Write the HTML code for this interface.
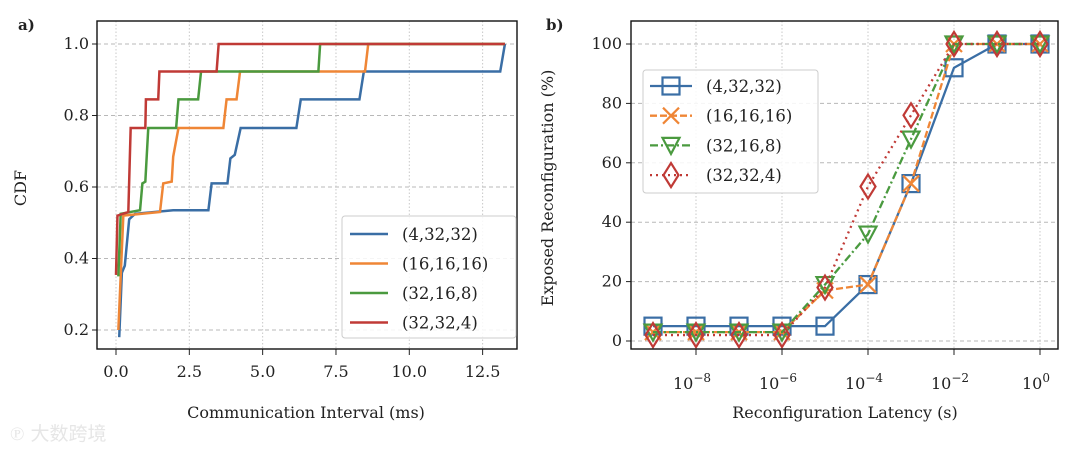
<!DOCTYPE html>
<html><head><meta charset="utf-8"><style>
body{margin:0;background:#fff;}
svg text{font-family:"DejaVu Serif","Liberation Serif",serif;fill:#222;}
</style></head><body>
<svg width="1080" height="448" viewBox="0 0 1080 448" xmlns="http://www.w3.org/2000/svg">
<text x="18" y="30" font-size="15" font-weight="bold">a)</text>
<text x="546" y="30" font-size="15" font-weight="bold">b)</text>
<g id="left"></g>
<g id="right"></g>
<text x="10" y="440" font-size="19" style="fill:#e6e6e6" font-family="Noto Sans CJK SC, sans-serif">℗ 大数跨境</text>
</svg>
<script>
const NS="http://www.w3.org/2000/svg";
const cdfNames=["(4,32,32)","(16,16,16)","(32,16,8)","(32,32,4)"];
const cdfColors=["#3a6ea5","#ef8636","#4a9a3f","#c03a36"];
const cdfX0=[0.11,0.2,0.3,0.45,0.65,1.95,3.15,3.26,3.8,3.9,4.05,4.25,6.15,6.3,8.3,8.45,13.1,13.26];
const cdfY0=[0.18,0.36,0.38,0.51,0.525,0.535,0.535,0.61,0.61,0.68,0.69,0.765,0.765,0.845,0.845,0.923,0.923,1.0];
const cdfX1=[0.08,0.25,1.5,1.61,1.9,1.95,2.13,3.66,3.77,4.11,4.23,8.49,8.6,13.26];
const cdfY1=[0.2,0.52,0.53,0.61,0.615,0.685,0.765,0.765,0.845,0.845,0.923,0.923,1.0,1.0];
const cdfX2=[0.08,0.16,0.82,0.9,1.0,1.1,2.05,2.13,2.8,2.9,6.9,6.96,13.26];
const cdfY2=[0.35,0.525,0.535,0.61,0.615,0.765,0.765,0.845,0.845,0.923,0.923,1.0,1.0];
const cdfX3=[0.0,0.05,0.42,0.5,1.0,1.02,1.44,1.48,3.43,3.5,13.26];
const cdfY3=[0.354,0.52,0.53,0.765,0.765,0.845,0.845,0.923,0.923,1.0,1.0];
const cdfXTicks=[0,2.5,5,7.5,10,12.5];
const cdfXTickLabels=["0.0","2.5","5.0","7.5","10.0","12.5"];
const cdfYTicks=[0.2,0.4,0.6,0.8,1.0];
const cdfYTickLabels=["0.2","0.4","0.6","0.8","1.0"];

const recNames=["(4,32,32)","(16,16,16)","(32,16,8)","(32,32,4)"];
const recExp=[-9,-8,-7,-6,-5,-4,-3,-2,-1,0];
const rec0=[5,5,5,5,5,19,53,92,100,100];
const rec1=[3,3,3,3,17,19,53,100,100,100];
const rec2=[3,3,3,3,19,36,68,100,100,100];
const rec3=[2,2,2,2,18,52,76,100,100,100];
const recXTicks=[-8,-6,-4,-2,0];
const recYTicks=[0,20,40,60,80,100];

function el(p,t,a){const e=document.createElementNS(NS,t);for(const k in a)e.setAttribute(k,a[k]);p.appendChild(e);return e;}
function txt(p,x,y,s,a){const e=el(p,"text",Object.assign({x:x,y:y,"font-size":16},a||{}));e.textContent=s;return e;}

// Left
const L=document.getElementById("left");
const lx=v=>116+v*29.33, ly=v=>44+(1-v)*357.5;
cdfYTicks.forEach((v,i)=>{
 const g=el(L,"line",{x1:97,x2:517,y1:ly(v),y2:ly(v),stroke:"#b8b8b8","stroke-dasharray":"4,3"});
 
 el(L,"line",{x1:92,x2:97,y1:ly(v),y2:ly(v),stroke:"#222"});
 const t=txt(L,89,ly(v)+5,cdfYTickLabels[i],{"text-anchor":"end"});
 
});
cdfXTicks.forEach((v,i)=>{
 const g=el(L,"line",{x1:lx(v),x2:lx(v),y1:21,y2:349,stroke:"#c8c8c8","stroke-dasharray":"1.5,2"});
 
 el(L,"line",{x1:lx(v),x2:lx(v),y1:349,y2:355,stroke:"#222"});
 const t=txt(L,lx(v),377,cdfXTickLabels[i],{"text-anchor":"middle"});
 
});
[[cdfX0,cdfY0],[cdfX1,cdfY1],[cdfX2,cdfY2],[cdfX3,cdfY3]].forEach((s,k)=>{
 const pts=s[0].map((x,i)=>lx(x)+","+ly(s[1][i])).join(" ");
 const p=el(L,"polyline",{points:pts,fill:"none",stroke:cdfColors[k],"stroke-width":2.5});
 
});
el(L,"rect",{x:97,y:21,width:420,height:328,fill:"none",stroke:"#111","stroke-width":1.4});
const ll=el(L,"rect",{x:342,y:216,width:174,height:122,rx:3,fill:"#fff","fill-opacity":0.85,stroke:"#ccc"});

cdfNames.forEach((n,k)=>{const y=234+k*29.5;
 el(L,"line",{x1:350,x2:388,y1:y,y2:y,stroke:cdfColors[k],"stroke-width":2.5});
 const t=txt(L,402,y+6,n,{"font-size":16.5});});
txt(L,306,418,"Communication Interval (ms)",{"text-anchor":"middle",});
txt(L,0,0,"CDF",{"text-anchor":"middle",transform:"translate(26,188) rotate(-90)",});

// Right
const R=document.getElementById("right");
const rx=e=>653+(e+9)*43, ry=v=>341-v*2.97;
recYTicks.forEach(v=>{
 const g=el(R,"line",{x1:631,x2:1058,y1:ry(v),y2:ry(v),stroke:"#b8b8b8","stroke-dasharray":"4,3"});
 
 el(R,"line",{x1:626,x2:631,y1:ry(v),y2:ry(v),stroke:"#222"});
 const t=txt(R,622,ry(v)+5,String(v),{"text-anchor":"end"});
 
});
recXTicks.forEach(e=>{
 const g=el(R,"line",{x1:rx(e),x2:rx(e),y1:21,y2:349,stroke:"#c8c8c8","stroke-dasharray":"1.5,2"});
 
 el(R,"line",{x1:rx(e),x2:rx(e),y1:349,y2:355,stroke:"#222"});
 const t=el(R,"text",{x:rx(e)-4,y:389,"font-size":16,"text-anchor":"middle"});
 t.textContent="10";const ts=el(t,"tspan",{dy:-7,"font-size":12});ts.textContent=e===0?"0":"\u2212"+(-e);
 
});
const rc=cdfColors, dashes=["", "7,3", "8,3,2,3", "2,4"];
function marker(p,k,x,y){
 const c=rc[k];
 if(k===0) return el(p,"rect",{x:x-8.5,y:y-8.5,width:17,height:17,fill:"none",stroke:c,"stroke-width":2.2});
 if(k===1){const g=el(p,"g",{});el(g,"path",{d:`M${x-8},${y-8}L${x+8},${y+8}M${x-8},${y+8}L${x+8},${y-8}`,stroke:c,"stroke-width":2.2});return g;}
 if(k===2) return el(p,"polygon",{points:`${x-8.5},${y-7.5} ${x+8.5},${y-7.5} ${x},${y+8.5}`,fill:"none",stroke:c,"stroke-width":2.2});
 return el(p,"polygon",{points:`${x},${y-12} ${x+7.5},${y} ${x},${y+12} ${x-7.5},${y}`,fill:"none",stroke:c,"stroke-width":2.2});
}
[rec0,rec1,rec2,rec3].forEach((s,k)=>{
 const pts=s.map((v,i)=>rx(recExp[i])+","+ry(v)).join(" ");
 const p=el(R,"polyline",{points:pts,fill:"none",stroke:rc[k],"stroke-width":2.3,"stroke-dasharray":dashes[k]});
 
 s.forEach((v,i)=>{const m=marker(R,k,rx(recExp[i]),ry(v));
  });
});
el(R,"rect",{x:631,y:21,width:427,height:328,fill:"none",stroke:"#111","stroke-width":1.4});
const rl=el(R,"rect",{x:643,y:70,width:175,height:123,rx:3,fill:"#fff","fill-opacity":0.85,stroke:"#ccc"});

recNames.forEach((n,k)=>{const y=86+k*29.7;
 el(R,"line",{x1:650,x2:692,y1:y,y2:y,stroke:rc[k],"stroke-width":2.3,"stroke-dasharray":dashes[k]});
 marker(R,k,671,y);
 const t=txt(R,706,y+6,n,{"font-size":16.5});});
txt(R,845,418,"Reconfiguration Latency (s)",{"text-anchor":"middle",});
txt(R,0,0,"Exposed Reconfiguration (%)",{"text-anchor":"middle",transform:"translate(553,188) rotate(-90)",});
</script>
</body></html>
